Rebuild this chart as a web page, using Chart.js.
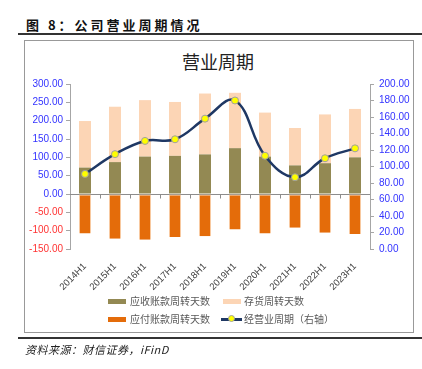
<!DOCTYPE html>
<html>
<head>
<meta charset="utf-8">
<script src="https://cdn.jsdelivr.net/npm/chart.js@4/dist/chart.umd.min.js"></script>
<style>
  body { margin: 0; width: 422px; height: 369px; background: #fff; position: relative; overflow: hidden;
         font-family: "Noto Sans CJK SC", sans-serif; }
  .fig-title { position: absolute; left: 26px; top: 15px; font-size: 13px; font-weight: bold; letter-spacing: 3px; color: #111; }
  .rule { position: absolute; left: 18px; width: 404px; height: 2px; background: #333; }
  .box { position: absolute; left: 24px; top: 40px; width: 388px; height: 291px; border: 1px solid #999; }
  .chart-title { position: absolute; left: 0; width: 422px; top: 48px; text-align: center; font-size: 18px; color: #222; padding-left: 14px; box-sizing: border-box; }
  canvas { position: absolute; left: 24px; top: 41px; }
  .lg { position: absolute; font-size: 10px; color: #595959; line-height: 12px; white-space: nowrap; }
  .sw { position: absolute; width: 18px; height: 5px; }
  .src { position: absolute; left: 25px; top: 341px; font-size: 11px; font-style: italic; color: #222; letter-spacing: 0.5px; }
</style>
</head>
<body>
<div class="fig-title">图 8：公司营业周期情况</div>
<div class="rule" style="top:33px"></div>
<div class="box"></div>
<div class="chart-title">营业周期</div>
<canvas id="c" width="389" height="254"></canvas>

<div class="sw" style="left:108px;top:299px;background:#938953"></div>
<div class="lg" style="left:130px;top:295px">应收账款周转天数</div>
<div class="sw" style="left:223px;top:299px;background:#FCD5B5"></div>
<div class="lg" style="left:244px;top:295px">存货周转天数</div>
<div class="sw" style="left:108px;top:317px;background:#E46C0A"></div>
<div class="lg" style="left:130px;top:313px">应付账款周转天数</div>
<div style="position:absolute;left:221px;top:318px;width:21px;height:3px;background:#1F3864"></div>
<div style="position:absolute;left:228px;top:315px;width:7px;height:7px;border-radius:50%;background:#FFFF00;border:1px solid #A0A0A0;box-sizing:border-box"></div>
<div class="lg" style="left:244px;top:313px">经营业周期（右轴）</div>

<div class="rule" style="top:337px"></div>
<div class="src">资料来源：财信证券，iFinD</div>

<script>
const labels = ['2014H1', '2015H1', '2016H1', '2017H1', '2018H1', '2019H1', '2020H1', '2021H1', '2022H1', '2023H1'];
const receivableDays = [72, 87, 102, 104, 108, 125, 102, 78, 84, 100];
const inventoryDays = [127, 151, 154, 147, 166, 151, 120, 102, 133, 132];
const payableDays = [-108, -122, -125, -117, -115, -97, -108, -92, -106, -109];
const operatingCycle = [91, 115, 131, 133, 158, 180, 113, 87, 110, 122];

// zero line plus small ticks between categories
const zeroLine = {
    id: 'zeroLine',
    beforeDatasetsDraw(chart) {
        const { ctx, chartArea, scales } = chart;
        const y0 = Math.round(scales.y.getPixelForValue(0)) + 0.5;
        ctx.save();
        ctx.strokeStyle = '#8C8C8C';
        ctx.lineWidth = 1;
        ctx.beginPath();
        ctx.moveTo(chartArea.left, y0);
        ctx.lineTo(chartArea.right, y0);
        for (let i = 1; i < labels.length; i++) {
            const x = Math.round((scales.x.getPixelForTick(i - 1) + scales.x.getPixelForTick(i)) / 2) + 0.5;
            ctx.moveTo(x, y0);
            ctx.lineTo(x, y0 + 4);
        }
        ctx.stroke();
        ctx.restore();
    }
};

const tickFont = { family: 'Liberation Sans, Arial, sans-serif', size: 10 };

new Chart(document.getElementById('c'), {
    type: 'bar',
    data: {
        labels: labels,
        datasets: [
            {
                label: '应收账款周转天数',
                data: receivableDays,
                backgroundColor: '#938953',
                stack: 's',
                order: 1,
            },
            {
                label: '存货周转天数',
                data: inventoryDays,
                backgroundColor: '#FCD5B5',
                stack: 's',
                order: 1,
            },
            {
                label: '应付账款周转天数',
                data: payableDays,
                backgroundColor: '#E46C0A',
                borderColor: '#F8C9A0',
                borderWidth: 1,
                borderSkipped: 'top',
                stack: 's',
                order: 1,
            },
            {
                type: 'line',
                label: '经营业周期（右轴）',
                data: operatingCycle,
                yAxisID: 'y1',
                borderColor: '#1F3864',
                borderWidth: 2.5,
                tension: 0.4,
                pointRadius: 3.5,
                pointBackgroundColor: '#FFFF00',
                pointBorderColor: '#A0A0A0',
                pointBorderWidth: 1,
                order: 0,
            },
        ],
    },
    options: {
        responsive: false,
        devicePixelRatio: 1,
        animation: false,
        layout: { padding: { top: 43, left: 0, right: 0, bottom: 0 } },
        datasets: { bar: { categoryPercentage: 1, barPercentage: 0.4 } },
        plugins: {
            legend: { display: false },
            title: { display: false },
            tooltip: { enabled: false },
        },
        scales: {
            x: {
                stacked: true,
                grid: { display: false },
                border: { display: false },
                ticks: { font: { family: tickFont.family, size: 9.5 }, color: '#404040', minRotation: 45, maxRotation: 45, padding: 4 },
                afterFit: scale => { scale.height = 46; },
            },
            y: {
                stacked: true,
                position: 'left',
                min: -150,
                max: 300,
                grid: { drawOnChartArea: false, tickLength: 4, color: '#A6A6A6' },
                border: { color: '#A6A6A6' },
                ticks: {
                    stepSize: 50,
                    font: tickFont,
                    padding: 3,
                    color: c => (c.tick && c.tick.value < 0 ? '#FF3333' : '#3333FF'),
                    callback: v => v.toFixed(2),
                },
                afterFit: scale => { scale.width = 46; },
            },
            y1: {
                position: 'right',
                min: 0,
                max: 200,
                grid: { drawOnChartArea: false, tickLength: 4, color: '#A6A6A6' },
                border: { color: '#A6A6A6' },
                ticks: {
                    stepSize: 20,
                    font: tickFont,
                    padding: 5,
                    color: '#3333FF',
                    callback: v => v.toFixed(2),
                },
                afterFit: scale => { scale.width = 43; },
            },
        },
    },
    plugins: [zeroLine],
});
</script>
</body>
</html>
